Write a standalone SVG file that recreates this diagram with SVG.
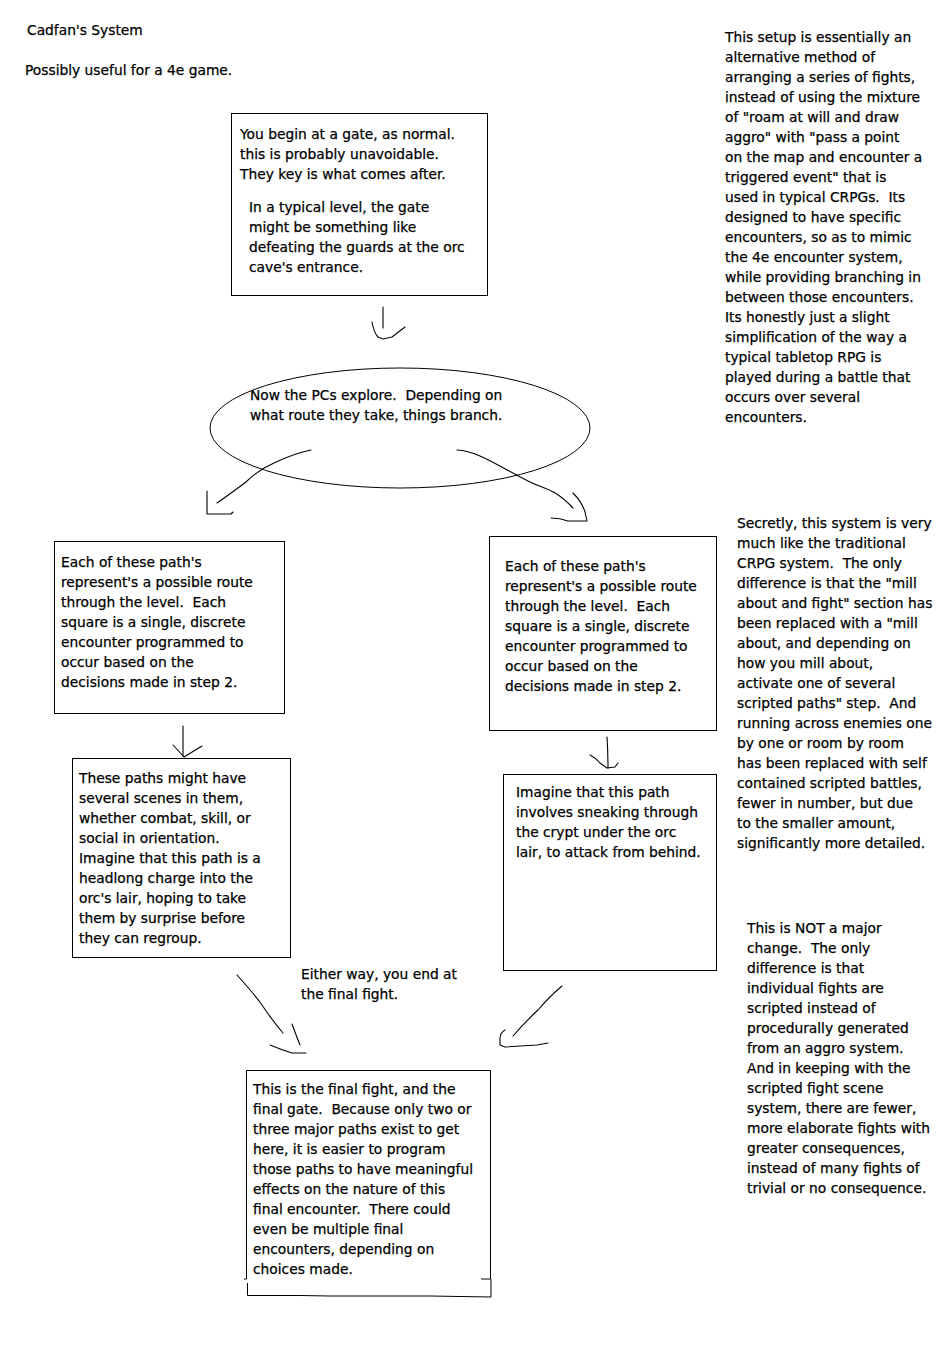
<svg xmlns="http://www.w3.org/2000/svg" width="945" height="1352" viewBox="0 0 945 1352">
<style>
text{font-family:"DejaVu Sans","Liberation Sans",sans-serif;font-size:13.8px;fill:#000;stroke:#000;stroke-width:0.25;white-space:pre}
.b{fill:none;stroke:#000;stroke-width:1}
.c{fill:none;stroke:#000;stroke-width:1.1;stroke-linecap:round;stroke-linejoin:round}
</style>
<rect width="945" height="1352" fill="#fff"/>
<g id="title">
<text x="27" y="35">Cadfan's System</text>
<text x="25" y="75">Possibly useful for a 4e game.</text>
</g>
<g id="gate">
<rect class="b" x="231.5" y="113.5" width="256" height="182"/>
<text x="240" y="139">You begin at a gate, as normal.</text>
<text x="240" y="159">this is probably unavoidable.</text>
<text x="240" y="179">They key is what comes after.</text>
<text x="249" y="212">In a typical level, the gate</text>
<text x="249" y="232">might be something like</text>
<text x="249" y="252">defeating the guards at the orc</text>
<text x="249" y="272">cave's entrance.</text>
</g>
<g id="explore">
<ellipse class="b" cx="400" cy="428" rx="190" ry="60"/>
<text x="250" y="400">Now the PCs explore.  Depending on</text>
<text x="250" y="420">what route they take, things branch.</text>
</g>
<g id="pathL">
<rect class="b" x="54.5" y="541.5" width="230" height="172"/>
<text x="61" y="567">Each of these path's</text>
<text x="61" y="587">represent's a possible route</text>
<text x="61" y="607">through the level.  Each</text>
<text x="61" y="627">square is a single, discrete</text>
<text x="61" y="647">encounter programmed to</text>
<text x="61" y="667">occur based on the</text>
<text x="61" y="687">decisions made in step 2.</text>
</g>
<g id="pathR">
<rect class="b" x="489.5" y="536.5" width="227" height="194"/>
<text x="505" y="571">Each of these path's</text>
<text x="505" y="591">represent's a possible route</text>
<text x="505" y="611">through the level.  Each</text>
<text x="505" y="631">square is a single, discrete</text>
<text x="505" y="651">encounter programmed to</text>
<text x="505" y="671">occur based on the</text>
<text x="505" y="691">decisions made in step 2.</text>
</g>
<g id="sceneL">
<rect class="b" x="72.5" y="758.5" width="218" height="199"/>
<text x="79" y="783">These paths might have</text>
<text x="79" y="803">several scenes in them,</text>
<text x="79" y="823">whether combat, skill, or</text>
<text x="79" y="843">social in orientation.</text>
<text x="79" y="863">Imagine that this path is a</text>
<text x="79" y="883">headlong charge into the</text>
<text x="79" y="903">orc's lair, hoping to take</text>
<text x="79" y="923">them by surprise before</text>
<text x="79" y="943">they can regroup.</text>
</g>
<g id="sceneR">
<rect class="b" x="503.5" y="774.5" width="213" height="196"/>
<text x="516" y="797">Imagine that this path</text>
<text x="516" y="817">involves sneaking through</text>
<text x="516" y="837">the crypt under the orc</text>
<text x="516" y="857">lair, to attack from behind.</text>
</g>
<g id="either">
<text x="301" y="979">Either way, you end at</text>
<text x="301" y="999">the final fight.</text>
</g>
<g id="final">
<path class="b" d="M246.5 1279 V1070.5 H490.5 V1279 M481 1279 H490.5 M246.5 1279 H244 M247.5 1283 V1295.5 H300 L330 1296 H430 L491 1297 V1279"/>
<text x="253" y="1094">This is the final fight, and the</text>
<text x="253" y="1114">final gate.  Because only two or</text>
<text x="253" y="1134">three major paths exist to get</text>
<text x="253" y="1154">here, it is easier to program</text>
<text x="253" y="1174">those paths to have meaningful</text>
<text x="253" y="1194">effects on the nature of this</text>
<text x="253" y="1214">final encounter.  There could</text>
<text x="253" y="1234">even be multiple final</text>
<text x="253" y="1254">encounters, depending on</text>
<text x="253" y="1274">choices made.</text>
</g>
<g id="note1">
<text x="725" y="42">This setup is essentially an</text>
<text x="725" y="62">alternative method of</text>
<text x="725" y="82">arranging a series of fights,</text>
<text x="725" y="102">instead of using the mixture</text>
<text x="725" y="122">of "roam at will and draw</text>
<text x="725" y="142">aggro" with "pass a point</text>
<text x="725" y="162">on the map and encounter a</text>
<text x="725" y="182">triggered event" that is</text>
<text x="725" y="202">used in typical CRPGs.  Its</text>
<text x="725" y="222">designed to have specific</text>
<text x="725" y="242">encounters, so as to mimic</text>
<text x="725" y="262">the 4e encounter system,</text>
<text x="725" y="282">while providing branching in</text>
<text x="725" y="302">between those encounters.</text>
<text x="725" y="322">Its honestly just a slight</text>
<text x="725" y="342">simplification of the way a</text>
<text x="725" y="362">typical tabletop RPG is</text>
<text x="725" y="382">played during a battle that</text>
<text x="725" y="402">occurs over several</text>
<text x="725" y="422">encounters.</text>
</g>
<g id="note2">
<text x="737" y="528">Secretly, this system is very</text>
<text x="737" y="548">much like the traditional</text>
<text x="737" y="568">CRPG system.  The only</text>
<text x="737" y="588">difference is that the "mill</text>
<text x="737" y="608">about and fight" section has</text>
<text x="737" y="628">been replaced with a "mill</text>
<text x="737" y="648">about, and depending on</text>
<text x="737" y="668">how you mill about,</text>
<text x="737" y="688">activate one of several</text>
<text x="737" y="708">scripted paths" step.  And</text>
<text x="737" y="728">running across enemies one</text>
<text x="737" y="748">by one or room by room</text>
<text x="737" y="768">has been replaced with self</text>
<text x="737" y="788">contained scripted battles,</text>
<text x="737" y="808">fewer in number, but due</text>
<text x="737" y="828">to the smaller amount,</text>
<text x="737" y="848">significantly more detailed.</text>
</g>
<g id="note3">
<text x="747" y="933">This is NOT a major</text>
<text x="747" y="953">change.  The only</text>
<text x="747" y="973">difference is that</text>
<text x="747" y="993">individual fights are</text>
<text x="747" y="1013">scripted instead of</text>
<text x="747" y="1033">procedurally generated</text>
<text x="747" y="1053">from an aggro system.</text>
<text x="747" y="1073">And in keeping with the</text>
<text x="747" y="1093">scripted fight scene</text>
<text x="747" y="1113">system, there are fewer,</text>
<text x="747" y="1133">more elaborate fights with</text>
<text x="747" y="1153">greater consequences,</text>
<text x="747" y="1173">instead of many fights of</text>
<text x="747" y="1193">trivial or no consequence.</text>
</g>
<g id="connectors">
<path class="c" d="M383 307 V328"/>
<path class="c" d="M372 322 Q374 333 378 337 L383 339 L392 337 L405 327"/>
<path class="c" d="M311 450 Q295 453 274 463 Q258 470 246 482 Q230 494 217 503"/>
<path class="c" d="M207 491 V514 H231 L233 512"/>
<path class="c" d="M457 450 C478 451 498 466 530 482 C544 489 554 488 573 508"/>
<path class="c" d="M573 493 Q582 502 585 512 L587 521 L568 521 Q560 518 551 518"/>
<path class="c" d="M183 726 V756"/>
<path class="c" d="M173 745 L184 757 L202 746"/>
<path class="c" d="M607 737 Q608 752 608 768"/>
<path class="c" d="M590 755 Q596 758 600 763 L607 768 L615 767 L618 763"/>
<path class="c" d="M237 975 Q255 995 262 1005 Q272 1020 283 1033"/>
<path class="c" d="M292 1024 Q296 1035 300 1045"/>
<path class="c" d="M270 1045 Q282 1050 292 1053 L306 1053"/>
<path class="c" d="M562 986 Q550 996 538 1010 Q525 1022 513 1036"/>
<path class="c" d="M505 1030 Q500 1033 500 1038 L500 1045 L505 1047 L537 1045 L548 1043"/>
</g>
</svg>
